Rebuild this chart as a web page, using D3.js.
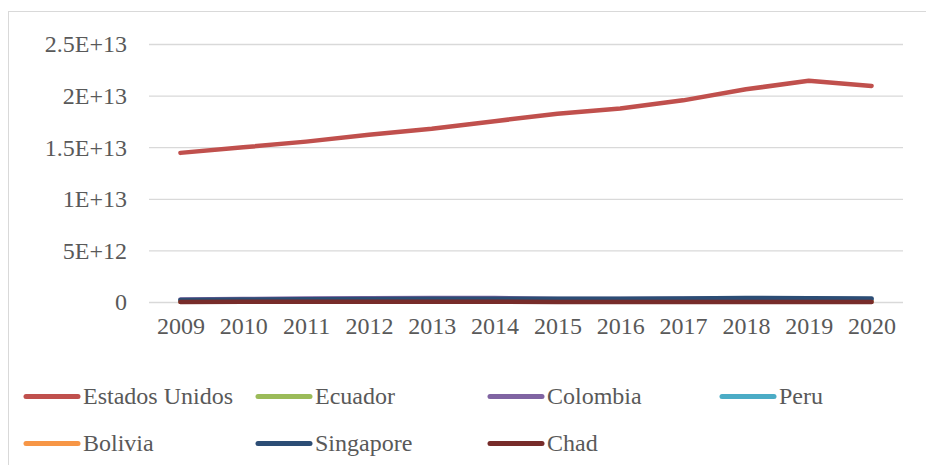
<!DOCTYPE html>
<html>
<head>
<meta charset="utf-8">
<script src="https://cdn.jsdelivr.net/npm/d3@7"></script>
</head>
<body style="margin:0;padding:0;background:#fff">
<svg id="chart" width="926" height="465" style="display:block;font-family:'Liberation Serif','Times New Roman',Tinos,serif"></svg>
<script>
const years = [2009, 2010, 2011, 2012, 2013, 2014, 2015, 2016, 2017, 2018, 2019, 2020];
const yTicks = [0, 5e12, 1e13, 1.5e13, 2e13, 2.5e13];
const yTickLabels = ["0", "5E+12", "1E+13", "1.5E+13", "2E+13", "2.5E+13"];

const seriesNames = ["Estados Unidos", "Ecuador", "Colombia", "Peru", "Bolivia", "Singapore", "Chad"];
const seriesColors = ["#c0504d", "#9bbb59", "#8064a2", "#4bacc6", "#f79646", "#2c4d75", "#772c2a"];

const estadosUnidos = [1.445e13, 1.499e13, 1.554e13, 1.620e13, 1.678e13, 1.752e13, 1.824e13, 1.875e13, 1.954e13, 2.061e13, 2.143e13, 2.094e13];
const ecuador = [6.25e10, 6.96e10, 7.93e10, 8.79e10, 9.51e10, 1.017e11, 9.93e10, 9.99e10, 1.043e11, 1.076e11, 1.081e11, 9.93e10];
const colombia = [2.32e11, 2.86e11, 3.34e11, 3.70e11, 3.82e11, 3.81e11, 2.93e11, 2.82e11, 3.11e11, 3.34e11, 3.23e11, 2.70e11];
const peru = [1.21e11, 1.48e11, 1.71e11, 1.93e11, 2.02e11, 2.01e11, 1.90e11, 1.91e11, 2.11e11, 2.22e11, 2.28e11, 2.02e11];
const bolivia = [1.73e10, 1.96e10, 2.39e10, 2.71e10, 3.07e10, 3.30e10, 3.30e10, 3.39e10, 3.75e10, 4.03e10, 4.10e10, 3.66e10];
const singapore = [1.92e11, 2.36e11, 2.75e11, 2.95e11, 3.07e11, 3.14e11, 3.08e11, 3.19e11, 3.43e11, 3.76e11, 3.75e11, 3.45e11];
const chad = [1.07e10, 1.24e10, 1.44e10, 1.29e10, 1.32e10, 1.40e10, 1.10e10, 1.01e10, 1.00e10, 1.13e10, 1.13e10, 1.07e10];

const seriesValues = [estadosUnidos, ecuador, colombia, peru, bolivia, singapore, chad];

const svg = d3.select("#chart");
const FONT = 24;
const FAMILY = "'Liberation Serif', 'Times New Roman', Tinos, serif";
const TXT = "#595959";

function styleText(sel) {
  sel.attr("font-family", "Liberation Serif")
     .style("font-family", FAMILY)
     .attr("font-size", FONT)
     .style("font-size", FONT + "px")
     .attr("fill", TXT);
}

// outer chart border
svg.append("rect")
  .attr("x", 8.5).attr("y", 11.5)
  .attr("width", 940).attr("height", 470)
  .attr("fill", "none").attr("stroke", "#d9d9d9").attr("stroke-width", 1);

const x = d3.scalePoint().domain(years).range([149, 903]).padding(0.5);
const y = d3.scaleLinear().domain([0, 2.5e13]).range([302, 44]);

// gridlines + y labels
const yAxis = d3.axisLeft(y).tickValues(yTicks).tickSize(-(903 - 149))
  .tickFormat((d, i) => yTickLabels[i]).tickPadding(22);
const gy = svg.append("g").attr("transform", "translate(149,0)").call(yAxis)
  .attr("font-family", null).style("font-family", FAMILY);
gy.select(".domain").remove();
gy.selectAll(".tick line").attr("stroke", "#d9d9d9").attr("stroke-width", 1.3);
gy.selectAll(".tick text").call(styleText).attr("dy", "0.33em");

// x labels
const xAxis = d3.axisBottom(x).tickSize(0).tickPadding(15).tickFormat(d => String(d));
const gx = svg.append("g").attr("transform", "translate(0,302)").call(xAxis)
  .attr("font-family", null).style("font-family", FAMILY);
gx.select(".domain").remove();
gx.selectAll(".tick text").call(styleText);

// lines
const line = d3.line().x((d, i) => x(years[i])).y(d => y(d));
seriesValues.forEach((vals, k) => {
  svg.append("path")
    .datum(vals)
    .attr("d", line)
    .attr("fill", "none")
    .attr("stroke", seriesColors[k])
    .attr("stroke-width", 4.5)
    .attr("stroke-linecap", "round")
    .attr("stroke-linejoin", "round");
});

// legend
const legX = [24, 256, 488, 720];
const legY = [396.5, 443.5];
seriesNames.forEach((name, k) => {
  const col = k % 4, row = Math.floor(k / 4);
  const g = svg.append("g").attr("transform", `translate(${legX[col]},${legY[row]})`);
  g.append("line")
    .attr("x1", 2).attr("x2", 54).attr("y1", 0).attr("y2", 0)
    .attr("stroke", seriesColors[k]).attr("stroke-width", 5)
    .attr("stroke-linecap", "round");
  g.append("text")
    .attr("x", 59).attr("y", 0).attr("dy", "0.33em")
    .call(styleText)
    .text(name);
});
</script>
</body>
</html>
